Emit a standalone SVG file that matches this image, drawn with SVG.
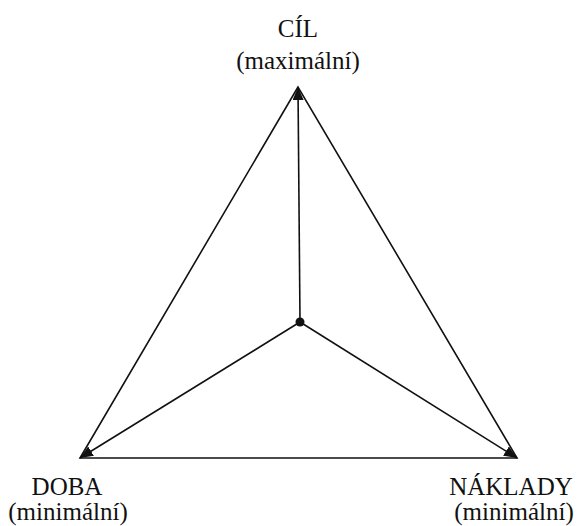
<svg xmlns="http://www.w3.org/2000/svg" width="578" height="526" viewBox="0 0 578 526">
<defs>
<style>
.l{stroke:#111;stroke-width:1.6;fill:none}
.t{font-family:"Liberation Serif","Times New Roman",serif;font-size:25px;fill:#111;text-anchor:middle}
</style>
<marker id="ah" viewBox="0 0 13 11" refX="13" refY="5.5" markerWidth="13" markerHeight="11" markerUnits="userSpaceOnUse" orient="auto">
<path d="M0,0 L13,5.5 L0,11 Z" fill="#111"/>
</marker>
</defs>
<g id="connectors">
<path class="l" d="M298,87 L80,458 L517,458 Z"/>
<line class="l" x1="300" y1="322" x2="298" y2="87" marker-end="url(#ah)"/>
<line class="l" x1="300" y1="322" x2="80" y2="458" marker-end="url(#ah)"/>
<line class="l" x1="300" y1="322" x2="517" y2="458" marker-end="url(#ah)"/>
</g>
<g id="center"><circle cx="300" cy="322" r="4.5" fill="#111"/></g>
<g id="cil"><text class="t" x="298" y="37">CÍL</text><text class="t" x="298" y="69">(maximální)</text></g>
<g id="doba"><text class="t" x="67" y="495">DOBA</text><text class="t" x="68" y="520">(minimální)</text></g>
<g id="naklady"><text class="t" x="511" y="495">NÁKLADY</text><text class="t" x="514" y="520">(minimální)</text></g>
</svg>
